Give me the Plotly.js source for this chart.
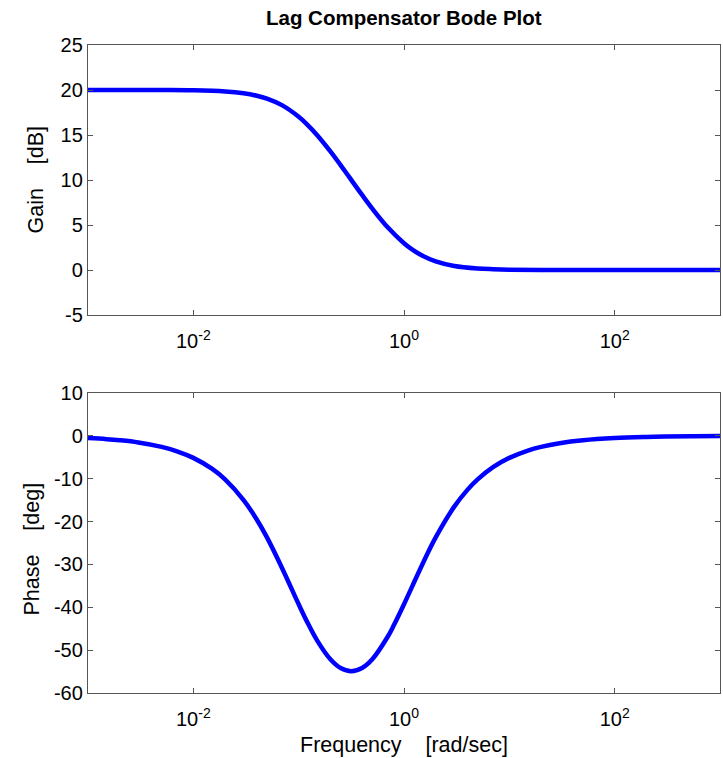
<!DOCTYPE html>
<html>
<head>
<meta charset="utf-8">
<script src="https://cdn.plot.ly/plotly-3.0.1.min.js"></script>
<style>html,body{margin:0;padding:0;background:#fff;}#plot{width:723px;height:758px;}</style>
</head>
<body>
<div id="plot"></div>
<script>
const gainFreq = [0.001, 0.003, 0.005, 0.01, 0.02, 0.03, 0.04, 0.05, 0.07, 0.1, 0.12, 0.15, 0.2, 0.25, 0.3, 0.4, 0.5, 0.7, 1, 1.2, 1.5, 2, 3, 5, 7, 10, 20, 100, 1000];
const gainDb   = [20.0, 20.0, 19.99, 19.96, 19.83, 19.63, 19.36, 19.04, 18.29, 17.03, 16.19, 14.98, 13.18, 11.66, 10.37, 8.34, 6.82, 4.74, 2.97, 2.26, 1.58, 0.96, 0.45, 0.17, 0.09, 0.04, 0.01, 0.0, 0.0];

const phaseFreq = [0.001, 0.0015, 0.002, 0.003, 0.005, 0.007, 0.01, 0.015, 0.02, 0.03, 0.04, 0.05, 0.07, 0.1, 0.12, 0.15, 0.2, 0.25, 0.316, 0.4, 0.5, 0.7, 0.8, 1, 1.2, 1.5, 2, 3, 4, 5, 7, 10, 15, 20, 30, 50, 100, 200, 300, 1000];
const phaseDeg  = [-0.52, -0.77, -1.03, -1.55, -2.58, -3.60, -5.14, -7.67, -10.16, -14.98, -19.51, -23.70, -30.99, -39.29, -43.35, -47.78, -52.13, -54.16, -54.90, -54.16, -52.13, -46.88, -44.21, -39.29, -35.05, -29.88, -23.70, -16.52, -12.61, -10.16, -7.31, -5.14, -3.43, -2.57, -1.72, -1.03, -0.52, -0.26, -0.17, -0.05];

const xTickVals = [0.01, 1, 100];
const xTickText = ['10<sup>-2</sup>', '10<sup>0</sup>', '10<sup>2</sup>'];
const gainTickVals = [-5, 0, 5, 10, 15, 20, 25];
const gainTickText = ['-5', '0', '5', '10', '15', '20', '25'];
const phaseTickVals = [-60, -50, -40, -30, -20, -10, 0, 10];
const phaseTickText = ['-60', '-50', '-40', '-30', '-20', '-10', '0', '10'];

const titleText = 'Lag Compensator Bode Plot';
const gainLabel = 'Gain\u00a0\u00a0\u00a0\u00a0[dB]';
const phaseLabel = 'Phase\u00a0\u00a0\u00a0\u00a0[deg]';
const freqLabel = 'Frequency\u00a0\u00a0\u00a0\u00a0[rad/sec]';

const FONT = 'Liberation Sans, Arial, sans-serif';
const lineStyle = {color: '#0000ff', width: 4.5, shape: 'spline', smoothing: 1};

const traces = [
  {x: gainFreq, y: gainDb, type: 'scatter', mode: 'lines', line: lineStyle, xaxis: 'x', yaxis: 'y', hoverinfo: 'none'},
  {x: phaseFreq, y: phaseDeg, type: 'scatter', mode: 'lines', line: lineStyle, xaxis: 'x2', yaxis: 'y2', hoverinfo: 'none'}
];

const tickFont = {family: FONT, size: 20, color: '#000'};
const labelFont = {family: FONT, size: 21.5, color: '#000'};
const commonX = {
  type: 'log', range: [-3, 3], tickmode: 'array', tickvals: xTickVals, ticktext: xTickText,
  ticks: 'inside', ticklen: 5, tickcolor: '#555', tickwidth: 1, ticklabelstandoff: 8,
  showline: true, linecolor: '#555', linewidth: 1.2, mirror: 'ticks',
  showgrid: false, zeroline: false, tickfont: tickFont
};
const commonY = {
  tickmode: 'array', ticks: 'inside', ticklen: 5, tickcolor: '#555', tickwidth: 1,
  showline: true, linecolor: '#555', linewidth: 1.2, mirror: 'ticks',
  showgrid: false, zeroline: false, tickfont: tickFont
};

const layout = {
  width: 723, height: 758,
  margin: {l: 88, r: 3, t: 45, b: 65},
  paper_bgcolor: '#fff', plot_bgcolor: '#fff',
  showlegend: false,
  font: tickFont,
  title: {text: '<b>' + titleText + '</b>', x: 0.5585, xanchor: 'center', y: 0.977, yanchor: 'middle',
          font: {family: FONT, size: 20.5, color: '#000'}},
  xaxis: Object.assign({}, commonX, {domain: [0, 1], anchor: 'y'}),
  yaxis: Object.assign({}, commonY, {domain: [0.5833, 1], anchor: 'x', range: [-5, 25],
          tickvals: gainTickVals, ticktext: gainTickText}),
  xaxis2: Object.assign({}, commonX, {domain: [0, 1], anchor: 'y2'}),
  yaxis2: Object.assign({}, commonY, {domain: [0, 0.463], anchor: 'x2', range: [-60, 10],
          tickvals: phaseTickVals, ticktext: phaseTickText}),
  annotations: [
    {text: gainLabel, xref: 'paper', yref: 'paper', x: -0.083, y: 0.7917, xanchor: 'center', yanchor: 'middle',
     textangle: -90, showarrow: false, font: labelFont},
    {text: phaseLabel, xref: 'paper', yref: 'paper', x: -0.088, y: 0.222, xanchor: 'center', yanchor: 'middle',
     textangle: -90, showarrow: false, font: labelFont},
    {text: freqLabel, xref: 'paper', yref: 'paper', x: 0.5, y: -0.08, xanchor: 'center', yanchor: 'middle',
     showarrow: false, font: labelFont}
  ]
};

Plotly.newPlot('plot', traces, layout, {staticPlot: true, displayModeBar: false});
</script>
</body>
</html>
